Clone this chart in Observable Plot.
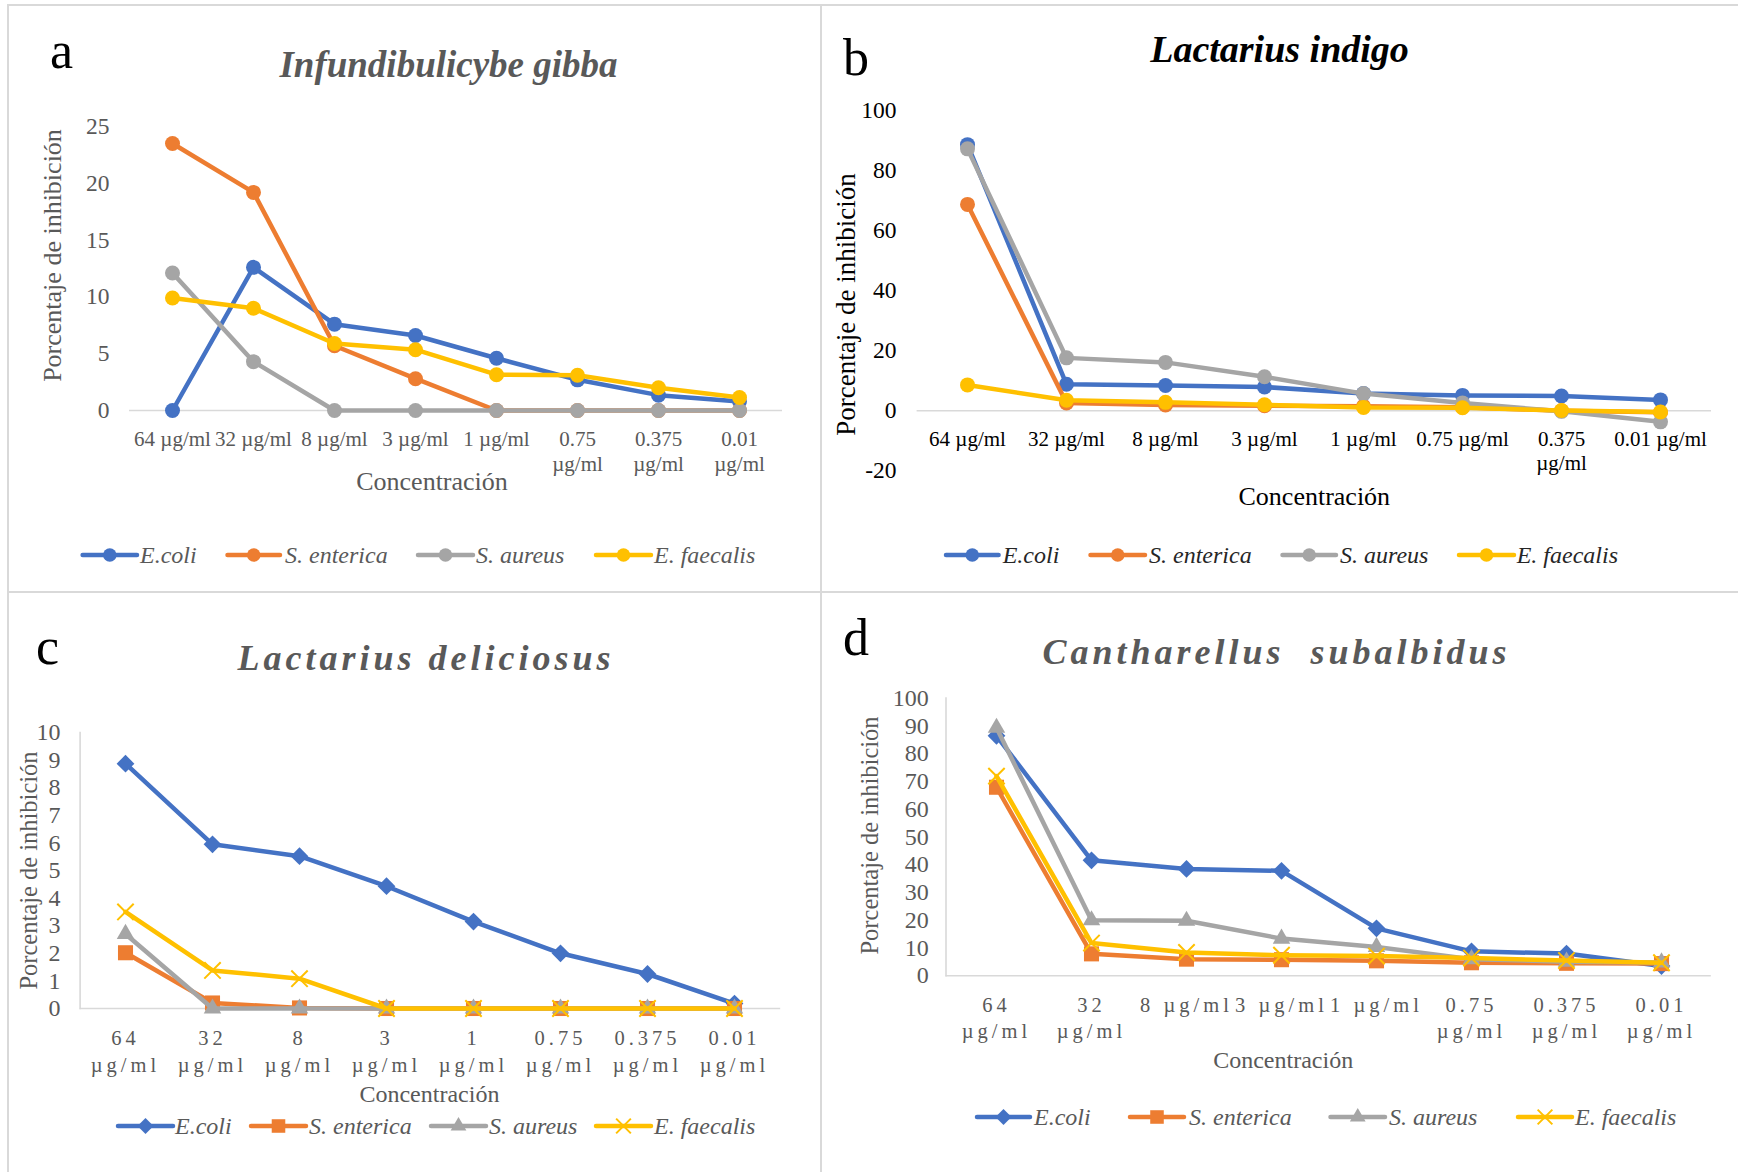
<!DOCTYPE html>
<html>
<head>
<meta charset="utf-8">
<script src="https://cdn.jsdelivr.net/npm/d3@7"></script>
<script src="https://cdn.jsdelivr.net/npm/@observablehq/plot@0.6"></script>
<style>
  html, body { margin: 0; padding: 0; background: #fff; }
  #root { position: relative; width: 1738px; height: 1172px; background: #fff; overflow: hidden; font-family: "Liberation Serif", "Times New Roman", serif; }
  .ln { position: absolute; background: #d9d9d9; }
  .pnl { position: absolute; }
  .pnl svg { display: block; overflow: visible; }
</style>
</head>
<body>
<div id="root"></div>
<script>
// ---------- data ----------
const conc = ["64", "32", "8", "3", "1", "0.75", "0.375", "0.01"];
const species = ["E.coli", "S. enterica", "S. aureus", "E. faecalis"];
const colors = ["#4472C4", "#ED7D31", "#A5A5A5", "#FFC000"];
const yLabel = "Porcentaje de inhibición";
const xLabel = "Concentración";

// a — Infundibulicybe gibba
const gibbaEcoli     = [0, 12.6, 7.6, 6.6, 4.6, 2.7, 1.35, 0.8];
const gibbaEnterica  = [23.5, 19.2, 5.7, 2.8, 0, 0, 0, 0];
const gibbaAureus    = [12.1, 4.3, 0, 0, 0, 0, 0, 0];
const gibbaFaecalis  = [9.9, 9.0, 5.9, 5.35, 3.15, 3.1, 2.0, 1.15];
const gibbaTicks = ["64 µg/ml", "32 µg/ml", "8 µg/ml", "3 µg/ml", "1 µg/ml", "0.75\nµg/ml", "0.375\nµg/ml", "0.01\nµg/ml"];
const gibbaYTicks = [0, 5, 10, 15, 20, 25];

// b — Lactarius indigo
const indigoEcoli    = [88.6, 8.8, 8.4, 7.9, 5.7, 5.1, 4.9, 3.6];
const indigoEnterica = [68.7, 2.6, 1.9, 1.7, 1.5, 1.2, 0, -0.5];
const indigoAureus   = [87.2, 17.6, 16.1, 11.3, 5.7, 2.6, -0.2, -3.7];
const indigoFaecalis = [8.6, 3.5, 2.8, 2.0, 1.1, 1.0, 0.1, -0.4];
const indigoTicks = ["64 µg/ml", "32 µg/ml", "8 µg/ml", "3 µg/ml", "1 µg/ml", "0.75 µg/ml", "0.375\nµg/ml", "0.01 µg/ml"];
const indigoYTicks = [-20, 0, 20, 40, 60, 80, 100];

// c — Lactarius deliciosus
const deliciosusEcoli    = [8.87, 5.95, 5.52, 4.43, 3.15, 2.0, 1.25, 0.18];
const deliciosusEnterica = [2.02, 0.2, 0.02, 0, 0, 0, 0, 0];
const deliciosusAureus   = [2.7, 0, 0, 0, 0, 0, 0, 0];
const deliciosusFaecalis = [3.5, 1.38, 1.08, 0, 0, 0, 0, 0];
const deliciosusTicks = ["64\nµg/ml", "32\nµg/ml", "8\nµg/ml", "3\nµg/ml", "1\nµg/ml", "0.75\nµg/ml", "0.375\nµg/ml", "0.01\nµg/ml"];
const deliciosusYTicks = [0, 1, 2, 3, 4, 5, 6, 7, 8, 9, 10];

// d — Cantharellus subalbidus
const subalbidusEcoli    = [86.4, 41.6, 38.5, 37.8, 17.1, 8.8, 8.0, 3.5];
const subalbidusEnterica = [67.9, 7.9, 6.0, 5.8, 5.4, 4.7, 4.5, 4.4];
const subalbidusAureus   = [89.3, 20.0, 19.8, 13.4, 10.4, 6.0, 5.1, 4.8];
const subalbidusFaecalis = [71.9, 11.8, 8.4, 7.4, 7.1, 6.4, 5.5, 4.7];
const subalbidusTicks = ["64\nµg/ml", "32\nµg/ml", "8 µg/ml", "3 µg/ml", "1 µg/ml", "0.75\nµg/ml", "0.375\nµg/ml", "0.01\nµg/ml"];
const subalbidusYTicks = [0, 10, 20, 30, 40, 50, 60, 70, 80, 90, 100];

// ---------- layout (styles / positions) ----------
const FONT = "Liberation Serif, Times New Roman, serif";
const symbolMap = {circle: d3.symbolCircle, diamond2: d3.symbolDiamond2, square: d3.symbolSquare, triangle: d3.symbolTriangle, times: d3.symbolTimes};

const panels = [
  {
    left: 0, top: 0, width: 821, height: 592,
    margin: [126, 39, 182, 129],
    series: [gibbaEcoli, gibbaEnterica, gibbaAureus, gibbaFaecalis],
    ticks: gibbaTicks, yTicks: gibbaYTicks, yDomain: [0, 25],
    yPad: 20, yFont: 23.5, xFont: 21, xDy: 18, xLh: 1.17, spacing: 0,
    yLab: {dx: -77, dy: -13, size: 26}, xLab: {dx: -24, dy: 71.5, size: 26},
    textColor: "#595959", legendColor: "#595959",
    title: {text: "Infundibulicybe gibba", x: 448.5, y: 77, size: 37, color: "#595959", spacing: 0},
    letter: {text: "a", x: 50, y: 68},
    legendY: 555, legend: [[82.6, 137, 140], [227.5, 280, 285], [418, 473, 476], [596, 651, 654]],
    symbols: ["circle", "circle", "circle", "circle"], r: [7.5, 7.5, 7.5, 7.5], lw: 4.5, yLine: false
  },
  {
    left: 821, top: 0, width: 917, height: 592,
    margin: [109.9, 27, 121.7, 95.6],
    series: [indigoEcoli, indigoEnterica, indigoAureus, indigoFaecalis],
    ticks: indigoTicks, yTicks: indigoYTicks, yDomain: [-20, 100],
    yPad: 20.6, yFont: 23.5, xFont: 21, xDy: 18, xLh: 1.14, spacing: 0,
    yLab: {dx: -70.6, dy: 13.9, size: 27}, xLab: {dx: 0, dy: 26.3, size: 26},
    textColor: "#000000", legendColor: "#262626",
    title: {text: "Lactarius indigo", x: 458.5, y: 62, size: 38, color: "#000000", spacing: 0},
    letter: {text: "b", x: 22, y: 75},
    legendY: 555, legend: [[125, 177.6, 181.7], [269.5, 324, 328], [461.5, 515, 519], [638, 693, 695.7]],
    symbols: ["circle", "circle", "circle", "circle"], r: [7.5, 7.5, 7.5, 7.5], lw: 4.5, yLine: false
  },
  {
    left: 0, top: 592, width: 821, height: 580,
    margin: [140, 40.8, 164, 79.6],
    series: [deliciosusEcoli, deliciosusEnterica, deliciosusAureus, deliciosusFaecalis],
    ticks: deliciosusTicks, yTicks: deliciosusYTicks, yDomain: [0, 10],
    yPad: 19.6, yFont: 24, xFont: 20.5, xDy: 18, xLh: 1.3, spacing: 4,
    yLab: {dx: -50.6, dy: 0, size: 24.5}, xLab: {dx: -1, dy: 85.7, size: 24},
    textColor: "#595959", legendColor: "#595959",
    title: {text: "Lactarius deliciosus", x: 426, y: 77.8, size: 36, color: "#595959", spacing: 4},
    letter: {text: "c", x: 36, y: 72},
    legendY: 534, legend: [[118, 173, 175], [251, 306, 309], [431, 486, 489], [596, 651, 654]],
    symbols: ["diamond2", "square", "triangle", "times"], r: [8, 8.5, 6.5, 7.5], lw: 4.5, yLine: true
  },
  {
    left: 821, top: 592, width: 917, height: 580,
    margin: [105.6, 27.2, 196.7, 124.5],
    series: [subalbidusEcoli, subalbidusEnterica, subalbidusAureus, subalbidusFaecalis],
    ticks: subalbidusTicks, yTicks: subalbidusYTicks, yDomain: [0, 100],
    yPad: 17.2, yFont: 24, xFont: 20.5, xDy: 18, xLh: 1.25, spacing: 4,
    yLab: {dx: -75.5, dy: -1.5, size: 24.5}, xLab: {dx: -45.5, dy: 84.3, size: 24},
    textColor: "#595959", legendColor: "#595959",
    title: {text: "Cantharellus  subalbidus", x: 455.5, y: 72, size: 36, color: "#595959", spacing: 4},
    letter: {text: "d", x: 22, y: 63},
    legendY: 525, legend: [[156, 209, 213], [309, 363, 368], [509.5, 564, 568], [697, 751, 754]],
    symbols: ["diamond2", "square", "triangle", "times"], r: [8, 8.5, 6.5, 7.5], lw: 4.5, yLine: true
  }
];

const root = document.getElementById("root");

// panel frame lines
[
  {l: 8, t: 4, w: 1730, h: 2},
  {l: 7, t: 4, w: 2, h: 1168},
  {l: 820, t: 4, w: 2, h: 1168},
  {l: 8, t: 591, w: 1730, h: 2}
].forEach(b => {
  const d = document.createElement("div");
  d.className = "ln";
  Object.assign(d.style, {left: b.l + "px", top: b.t + "px", width: b.w + "px", height: b.h + "px"});
  root.appendChild(d);
});

function dotMark(data, sym, color, r) {
  if (sym === "times") {
    return Plot.dot(data, {x: "c", y: "v", symbol: sym, r, stroke: color, strokeWidth: 2, fill: "none"});
  }
  return Plot.dot(data, {x: "c", y: "v", symbol: sym, r, fill: color, stroke: "none"});
}

panels.forEach(cfg => {
  const [mt, mr, mb, ml] = cfg.margin;
  const marks = [];
  marks.push(Plot.ruleY([0], {stroke: "#d9d9d9", strokeWidth: 1.6}));
  if (cfg.yLine) marks.push(Plot.frame({anchor: "left", stroke: "#d9d9d9", strokeWidth: 1.6}));
  marks.push(Plot.axisY({
    ticks: cfg.yTicks, tickSize: 0, tickPadding: cfg.yPad, fontSize: cfg.yFont,
    fill: cfg.textColor, label: null, tickFormat: d => String(d)
  }));
  marks.push(Plot.text(conc, {
    x: d => d, y: 0, text: (d, i) => cfg.ticks[i], lineAnchor: "top", dy: cfg.xDy,
    fontSize: cfg.xFont, lineHeight: cfg.xLh, fill: cfg.textColor
  }));
  marks.push(Plot.text([yLabel], {
    frameAnchor: "left", rotate: -90, textAnchor: "middle", lineAnchor: "middle",
    dx: cfg.yLab.dx, dy: cfg.yLab.dy, fontSize: cfg.yLab.size, fill: cfg.textColor
  }));
  marks.push(Plot.text([xLabel], {
    frameAnchor: "bottom", textAnchor: "middle", lineAnchor: "middle",
    dx: cfg.xLab.dx, dy: cfg.xLab.dy, fontSize: cfg.xLab.size, fill: cfg.textColor
  }));
  cfg.series.forEach((vals, si) => {
    const data = vals.map((v, i) => ({c: conc[i], v}));
    marks.push(Plot.line(data, {x: "c", y: "v", stroke: colors[si], strokeWidth: cfg.lw, strokeLinejoin: "round", strokeLinecap: "round"}));
    marks.push(dotMark(data, cfg.symbols[si], colors[si], cfg.r[si]));
  });

  const svg = Plot.plot({
    width: cfg.width, height: cfg.height,
    marginTop: mt, marginRight: mr, marginBottom: mb, marginLeft: ml,
    x: {type: "point", domain: conc, padding: 0.5, axis: null},
    y: {domain: cfg.yDomain},
    style: {fontFamily: FONT, background: "transparent", overflow: "visible"},
    marks
  });

  const s = d3.select(svg);
  if (cfg.spacing) {
    s.selectAll("text")
      .filter(function () { return this.textContent.indexOf("µg/ml") >= 0; })
      .style("letter-spacing", cfg.spacing + "px");
  }

  // title and panel letter
  s.append("text")
    .attr("x", cfg.title.x).attr("y", cfg.title.y)
    .attr("text-anchor", "middle")
    .style("font-family", FONT).style("font-size", cfg.title.size + "px")
    .style("font-weight", "bold").style("font-style", "italic")
    .style("letter-spacing", cfg.title.spacing + "px").style("white-space", "pre")
    .attr("fill", cfg.title.color)
    .text(cfg.title.text);
  s.append("text")
    .attr("x", cfg.letter.x).attr("y", cfg.letter.y)
    .attr("text-anchor", "start")
    .style("font-family", FONT).style("font-size", "52px")
    .attr("fill", "#000")
    .text(cfg.letter.text);

  // legend
  const lg = s.append("g").attr("aria-label", "legend");
  cfg.legend.forEach(([x1, x2, tx], si) => {
    const y = cfg.legendY;
    lg.append("line").attr("x1", x1).attr("x2", x2).attr("y1", y).attr("y2", y)
      .attr("stroke", colors[si]).attr("stroke-width", cfg.lw).attr("stroke-linecap", "round");
    const sym = cfg.symbols[si];
    const r = cfg.r[si] * 0.9;
    const p = lg.append("path")
      .attr("d", d3.symbol(symbolMap[sym], Math.PI * r * r)())
      .attr("transform", `translate(${(x1 + x2) / 2},${y})`);
    if (sym === "times") p.attr("fill", "none").attr("stroke", colors[si]).attr("stroke-width", 2);
    else p.attr("fill", colors[si]);
    lg.append("text").attr("x", tx).attr("y", y).attr("dy", "0.34em")
      .attr("text-anchor", "start")
      .style("font-family", FONT).style("font-size", "24px").style("font-style", "italic")
      .attr("fill", cfg.legendColor)
      .text(species[si]);
  });

  const wrap = document.createElement("div");
  wrap.className = "pnl";
  wrap.style.left = cfg.left + "px";
  wrap.style.top = cfg.top + "px";
  wrap.appendChild(svg);
  root.appendChild(wrap);
});
</script>
</body>
</html>
